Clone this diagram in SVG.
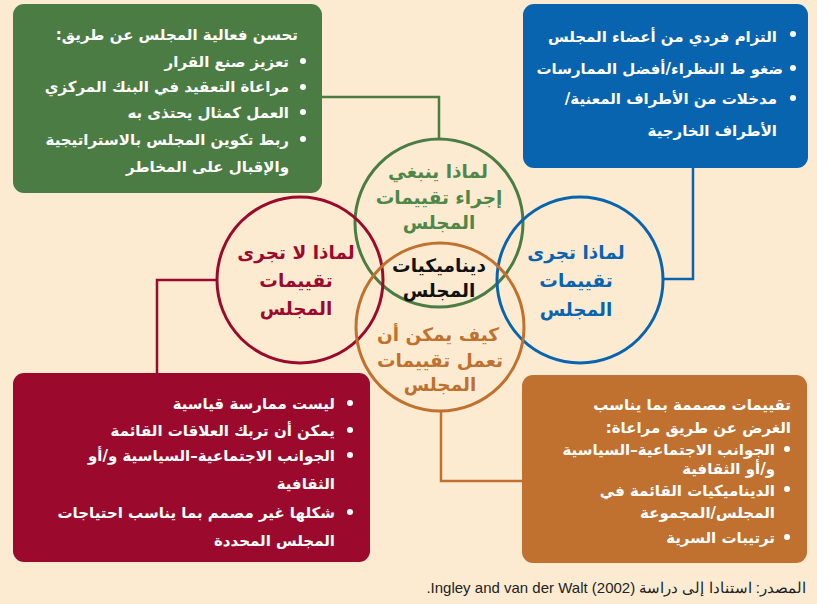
<svg xmlns="http://www.w3.org/2000/svg" width="817" height="604" viewBox="0 0 817 604">
<style>
.bx{font-family:"DejaVu Sans",sans-serif;font-weight:bold;font-size:15px;fill:#fff;direction:rtl;text-anchor:start}
.ct{font-family:"DejaVu Sans",sans-serif;font-weight:bold;font-size:18.5px;direction:rtl;text-anchor:middle}
.dot{fill:#fff}
.conn{fill:none;stroke-width:2.5}
.circ{fill:none;stroke-width:3}
.src{font-family:"Liberation Sans",sans-serif;font-size:15px;fill:#222;direction:rtl;text-anchor:start}
</style>
<rect x="0" y="0" width="817" height="604" fill="#FDEBD1"/>
<g id="connectors">
<polyline class="conn" stroke="#4A7C44" points="321,97 439,97 439,140"/>
<polyline class="conn" stroke="#0864AF" points="693,167 693,279 663,279"/>
<polyline class="conn" stroke="#9B0A2D" points="157,374 157,280 217,280"/>
<polyline class="conn" stroke="#C0712F" points="441,410 441,481 523,481"/>
</g>
<g id="box-green">
<rect x="13" y="4" width="309" height="189" rx="11" fill="#4A7C44"/>
<text class="bx" x="298" y="40">تحسن فعالية المجلس عن طريق:</text>
<circle class="dot" cx="303" cy="61" r="3"/>
<text class="bx" x="289" y="67">تعزيز صنع القرار</text>
<circle class="dot" cx="303" cy="87" r="3"/>
<text class="bx" x="289" y="92">مراعاة التعقيد في البنك المركزي</text>
<circle class="dot" cx="303" cy="112" r="3"/>
<text class="bx" x="289" y="118">العمل كمثال يحتذى به</text>
<circle class="dot" cx="303" cy="139" r="3"/>
<text class="bx" x="289" y="145">ربط تكوين المجلس بالاستراتيجية</text>
<text class="bx" x="289" y="172">والإقبال على المخاطر</text>
</g>
<g id="box-blue">
<rect x="523" y="4" width="285" height="164" rx="11" fill="#0864AF"/>
<circle class="dot" cx="793" cy="34" r="3"/>
<text class="bx" x="777" y="42">التزام فردي من أعضاء المجلس</text>
<circle class="dot" cx="793" cy="68" r="3"/>
<text class="bx" x="783" y="74">ضغو ط النظراء/أفضل الممارسات</text>
<circle class="dot" cx="793" cy="98" r="3"/>
<text class="bx" x="777" y="104">مدخلات من الأطراف المعنية/</text>
<text class="bx" x="777" y="136">الأطراف الخارجية</text>
</g>
<g id="box-red">
<rect x="13" y="373" width="357" height="189" rx="11" fill="#9B0A2D"/>
<circle class="dot" cx="350" cy="403" r="3"/>
<text class="bx" x="335" y="409">ليست ممارسة قياسية</text>
<circle class="dot" cx="350" cy="430" r="3"/>
<text class="bx" x="335" y="436">يمكن أن تربك العلاقات القائمة</text>
<circle class="dot" cx="350" cy="455" r="3"/>
<text class="bx" x="335" y="461">الجوانب الاجتماعية–السياسية و/أو</text>
<text class="bx" x="335" y="489">الثقافية</text>
<circle class="dot" cx="350" cy="512" r="3"/>
<text class="bx" x="335" y="518">شكلها غير مصمم بما يناسب احتياجات</text>
<text class="bx" x="335" y="546">المجلس المحددة</text>
</g>
<g id="box-orange">
<rect x="522" y="375" width="285" height="188" rx="11" fill="#C0712F"/>
<text class="bx" x="791" y="410">تقييمات مصممة بما يناسب</text>
<text class="bx" x="791" y="433">الغرض عن طريق مراعاة:</text>
<circle class="dot" cx="787" cy="449" r="3"/>
<text class="bx" x="775" y="455">الجوانب الاجتماعية–السياسية</text>
<text class="bx" x="775" y="474">و/أو الثقافية</text>
<circle class="dot" cx="787" cy="489" r="3"/>
<text class="bx" x="775" y="496">الديناميكيات القائمة في</text>
<text class="bx" x="775" y="518">المجلس/المجموعة</text>
<circle class="dot" cx="787" cy="537" r="3"/>
<text class="bx" x="775" y="543">ترتيبات السرية</text>
</g>
<g id="circle-green">
<circle class="circ" cx="439" cy="223" r="84" stroke="#4A7C44"/>
<text class="ct" fill="#4E8747" x="438" y="178">لماذا ينبغي</text>
<text class="ct" fill="#4E8747" x="439" y="204">إجراء تقييمات</text>
<text class="ct" fill="#4E8747" x="439" y="229">المجلس</text>
</g>
<g id="circle-red">
<circle class="circ" cx="300" cy="280" r="83" stroke="#9B0A2D"/>
<text class="ct" fill="#9B0A2D" x="296" y="259">لماذا لا تجرى</text>
<text class="ct" fill="#9B0A2D" x="296" y="287">تقييمات</text>
<text class="ct" fill="#9B0A2D" x="296" y="315">المجلس</text>
</g>
<g id="circle-blue">
<circle class="circ" cx="580" cy="280" r="83" stroke="#0864AF"/>
<text class="ct" fill="#0864AF" x="576" y="259">لماذا تجرى</text>
<text class="ct" fill="#0864AF" x="576" y="287">تقييمات</text>
<text class="ct" fill="#0864AF" x="576" y="316">المجلس</text>
</g>
<g id="circle-orange">
<circle class="circ" cx="440" cy="327" r="84" stroke="#C0712F"/>
<text class="ct" fill="#C0712F" x="438" y="341">كيف يمكن أن</text>
<text class="ct" fill="#C0712F" x="440" y="367">تعمل تقييمات</text>
<text class="ct" fill="#C0712F" x="440" y="391">المجلس</text>
</g>
<g id="center">
<text class="ct" fill="#111" x="439" y="272">ديناميكيات</text>
<text class="ct" fill="#111" x="439" y="297">المجلس</text>
</g>
<text class="src" x="806" y="593">المصدر: استنادا إلى دراسة Ingley and van der Walt (2002)&#x200E;.</text>
</svg>
